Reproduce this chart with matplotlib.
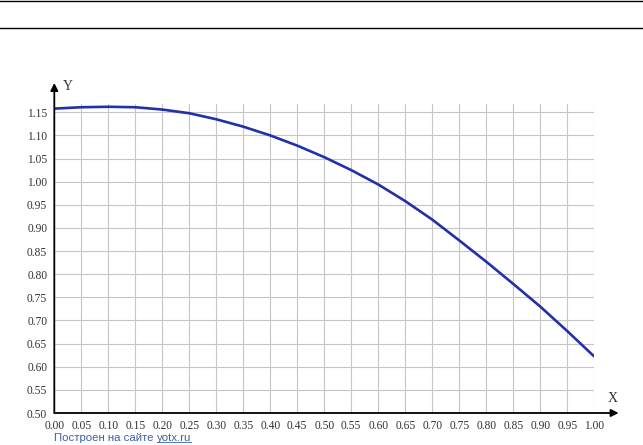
import matplotlib
matplotlib.use("Agg")
import matplotlib.pyplot as plt
from matplotlib.lines import Line2D
import numpy as np

# values
x_vals = [0.00, 0.05, 0.10, 0.15, 0.20, 0.25, 0.30, 0.35, 0.40, 0.45, 0.50,
          0.55, 0.60, 0.65, 0.70, 0.75, 0.80, 0.85, 0.90, 0.95, 1.00]
y_vals = [1.158, 1.161, 1.162, 1.161, 1.156, 1.148, 1.135, 1.119, 1.100, 1.078, 1.053,
          1.025, 0.994, 0.958, 0.918, 0.873, 0.827, 0.779, 0.730, 0.677, 0.622]
x_ticks = np.arange(0, 1.0001, 0.05)
y_ticks = np.arange(0.50, 1.1501, 0.05)

fig = plt.figure(figsize=(6.43, 4.45), dpi=100)
ax = fig.add_axes([54.3 / 643, 32 / 445, 540 / 643, 309 / 445])

ax.set_xlim(0, 1)
ax.set_ylim(0.5, 1.168)
ax.set_xticks(x_ticks)
ax.set_yticks(y_ticks)
ax.set_xticklabels([f"{v:.2f}" for v in x_ticks])
ax.set_yticklabels([f"{v:.2f}" for v in y_ticks])
ax.tick_params(length=0, labelsize=8.3, labelcolor="#333333")
ax.tick_params(axis="y", pad=5)
ax.tick_params(axis="x", pad=5)
for lab in ax.get_xticklabels() + ax.get_yticklabels():
    lab.set_family("Liberation Serif")

ax.grid(True, color="#c6c6c6", linewidth=0.8)
ax.set_axisbelow(True)
for s in ax.spines.values():
    s.set_visible(False)

ax.plot(x_vals, y_vals, color="#2231a8", linewidth=1.9, solid_capstyle="butt", zorder=3)

# axis arrows
arrow = dict(arrowstyle="-|>", color="black", lw=1.3, mutation_scale=11,
             shrinkA=0, shrinkB=0)
ax.annotate("", xy=(0, 1.068), xytext=(0, 0), xycoords="axes fraction",
            arrowprops=arrow, annotation_clip=False)
ax.annotate("", xy=(1.045, 0), xytext=(0, 0), xycoords="axes fraction",
            arrowprops=arrow, annotation_clip=False)
fig.text(63 / 643, 1 - 87 / 445, "Y", family="Liberation Serif", fontsize=10,
         color="#333333", va="center", ha="left")
fig.text(608 / 643, 1 - 398 / 445, "X", family="Liberation Serif", fontsize=10,
         color="#333333", va="center", ha="left")

# footer
t1 = fig.text(54 / 643, 1 - 438 / 445, "Построен на сайте ", family="Liberation Sans",
              fontsize=8.2, color="#3d5fa8", va="center", ha="left")
fig.canvas.draw()
bb = t1.get_window_extent()
t2 = fig.text(bb.x1 / 643, 1 - 438 / 445, "yotx.ru", family="Liberation Sans",
              fontsize=8.2, color="#3d5fa8", va="center", ha="left")
fig.canvas.draw()
bb2 = t2.get_window_extent()
fig.add_artist(Line2D([bb2.x0 / 643, bb2.x1 / 643], [bb2.y0 / 445 + 0.002] * 2,
                      color="#3d5fa8", linewidth=0.6))

# top rules
for yp in (1.3, 28.3):
    fig.add_artist(Line2D([0, 1], [1 - yp / 445] * 2, color="black", linewidth=1.0))

fig.savefig("out.png", dpi=100)
